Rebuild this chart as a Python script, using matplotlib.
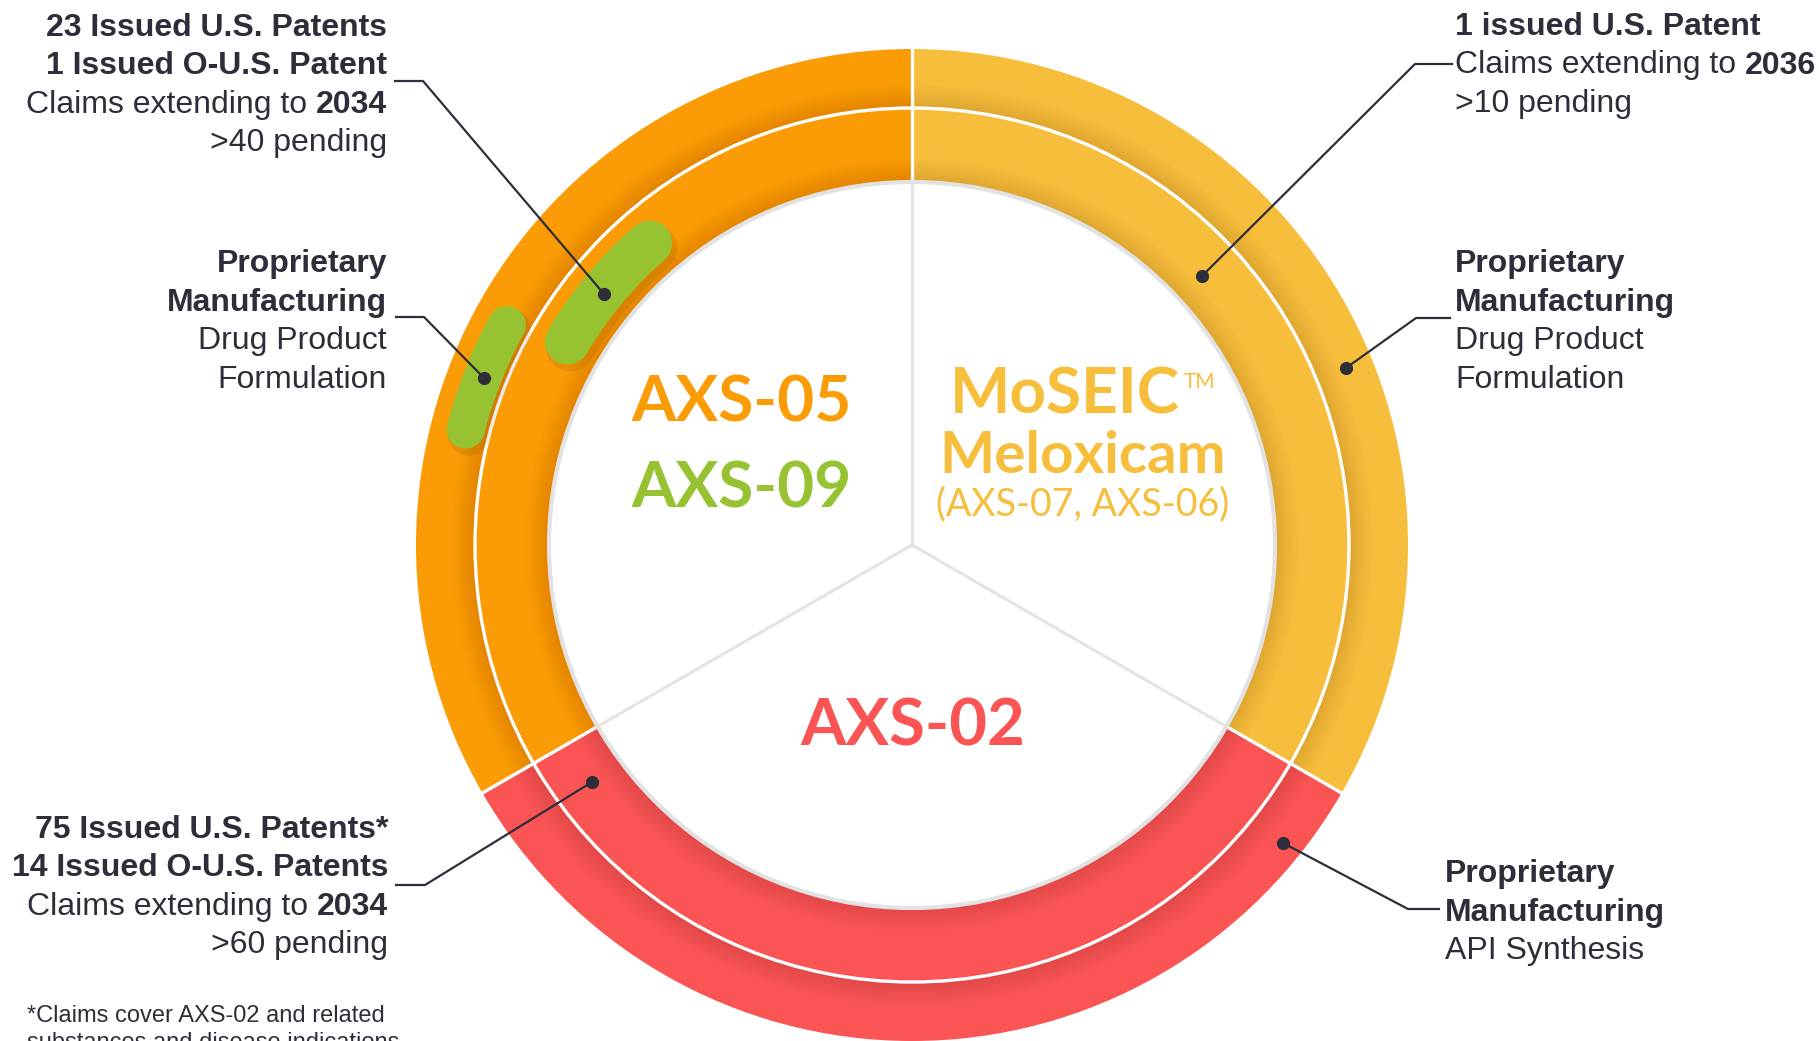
import matplotlib
matplotlib.use("Agg")
import matplotlib.pyplot as plt
from matplotlib.patches import Wedge, Circle
import numpy as np

# ── Canvas (data units = output pixels, y measured from the top) ──────────────
W, H = 1819, 1041
DPI = 100

ORANGE = "#FB9C06"
YELLOW = "#F7BE3C"
RED    = "#FA5454"
GREEN  = "#97C232"
DARK   = "#2D2E3A"
DIVIDE = "#E4E4E4"

LABEL_FONT = ["Liberation Sans", "DejaVu Sans"]
HEAD_FONT  = ["Lato", "DejaVu Sans"]

# ── Data: three programs sharing the ring equally ─────────────────────────────
SEGMENTS   = ["AXS-05 / AXS-09", "AXS-02", "MoSEIC Meloxicam"]
SHARES     = [1, 1, 1]
SEG_COLORS = [ORANGE, RED, YELLOW]

# annotation blocks: each line is (regular, bold)
BLOCK_AXS05 = [("", "23 Issued U.S. Patents"), ("", "1 Issued O-U.S. Patent"),
               ("Claims extending to", "2034"), (">40 pending", "")]
BLOCK_AXS05_MFG = [("", "Proprietary"), ("", "Manufacturing"),
                   ("Drug Product", ""), ("Formulation", "")]
BLOCK_AXS02 = [("", "75 Issued U.S. Patents*"), ("", "14 Issued O-U.S. Patents"),
               ("Claims extending to", "2034"), (">60 pending", "")]
BLOCK_MOSEIC = [("", "1 issued U.S. Patent"), ("Claims extending to", "2036"),
                (">10 pending", "")]
BLOCK_MOSEIC_MFG = [("", "Proprietary"), ("", "Manufacturing"),
                    ("Drug Product", ""), ("Formulation", "")]
BLOCK_AXS02_MFG = [("", "Proprietary"), ("", "Manufacturing"), ("API Synthesis", "")]
FOOTNOTE = ["*Claims cover AXS-02 and related", "substances and disease indications"]

# ── Layout ────────────────────────────────────────────────────────────────────
CX, CY = 912, 545
R_OUT, R_MID, R_IN = 496, 437, 363
LINE_STEP = 38.5
LABEL_SIZE = 23


def Y(y):
    return H - y


fig = plt.figure(figsize=(W / DPI, H / DPI), dpi=DPI)
ax = fig.add_axes([0, 0, 1, 1])
renderer = fig.canvas.get_renderer()

center = (CX, Y(CY))
ax.pie(SHARES, colors=SEG_COLORS, startangle=90, counterclock=True, radius=R_OUT,
       center=center, wedgeprops=dict(width=R_OUT - R_MID, linewidth=0))
ax.pie(SHARES, colors=SEG_COLORS, startangle=90, counterclock=True, radius=R_MID,
       center=center, wedgeprops=dict(width=R_MID - R_IN, linewidth=0))

# soft shadow toward the inner edge of each ring
for r_in in (R_MID, R_IN):
    for k in range(1, 13):
        ax.add_patch(Wedge(center, r_in + 2 * k, 0, 360, width=2 * k,
                           facecolor="black", alpha=0.006, linewidth=0, zorder=3))

bounds = 90 + 360 * np.cumsum([0] + SHARES) / sum(SHARES)
ax.add_patch(Circle(center, R_MID, facecolor="none", edgecolor="white",
                    linewidth=2.4, zorder=4))
for a in bounds[:-1]:
    t = np.radians(a)
    ax.plot([CX + R_IN * np.cos(t), CX + (R_OUT + 2) * np.cos(t)],
            [Y(CY) + R_IN * np.sin(t), Y(CY) + (R_OUT + 2) * np.sin(t)],
            color="white", linewidth=2.4, zorder=4)

# inner disc with dividers
ax.add_patch(Circle(center, R_IN, facecolor="white", edgecolor="#E2E2E2",
                    linewidth=3, zorder=5))
for a in bounds[:-1]:
    t = np.radians(a)
    ax.plot([CX, CX + (R_IN - 2) * np.cos(t)], [Y(CY), Y(CY) + (R_IN - 2) * np.sin(t)],
            color=DIVIDE, linewidth=2.2, zorder=6)

# green capsules on the orange rings (radius, start deg, end deg, thickness px)
for r, a0, a1, w in [(461, 151.5, 165.5, 38), (400, 131.0, 149.5, 45)]:
    t = np.radians(np.linspace(a0, a1, 60))
    xs = CX + r * np.cos(t)
    ys = Y(CY) + r * np.sin(t)
    ax.plot(xs + 3, ys - 5, color="black", alpha=0.08, linewidth=(w + 4) * 72 / DPI,
            solid_capstyle="round", zorder=6)
    ax.plot(xs, ys, color=GREEN, linewidth=w * 72 / DPI,
            solid_capstyle="round", zorder=7)

# leader lines
LEADERS = [
    [(395, 81), (423, 81), (604, 294)],
    [(396, 317), (424, 317), (484, 378)],
    [(396, 885), (425, 885), (592, 782)],
    [(1452, 64), (1415, 64), (1202, 276)],
    [(1450, 318), (1416, 318), (1346, 368)],
    [(1439, 909), (1408, 909), (1283, 843)],
]
for pts in LEADERS:
    xs = [p[0] for p in pts]
    ys = [Y(p[1]) for p in pts]
    ax.plot(xs, ys, color=DARK, linewidth=1.6, zorder=8)
    ax.plot(xs[-1], ys[-1], "o", color=DARK, markersize=8.5, zorder=9)


def draw_block(lines, x, baseline, ha):
    space = 0.278 * LABEL_SIZE * DPI / 72
    for i, (reg, bold) in enumerate(lines):
        y = Y(baseline + i * LINE_STEP)
        kw = dict(fontsize=LABEL_SIZE, color=DARK, family=LABEL_FONT, va="baseline", zorder=10)
        if reg and bold:
            if ha == "right":
                tb = ax.text(x, y, bold, ha="right", fontweight="bold", **kw)
                wb = tb.get_window_extent(renderer).width
                ax.text(x - wb - space, y, reg, ha="right", **kw)
            else:
                tr = ax.text(x, y, reg, ha="left", **kw)
                wr = tr.get_window_extent(renderer).width
                ax.text(x + wr + space, y, bold, ha="left", fontweight="bold", **kw)
        elif bold:
            ax.text(x, y, bold, ha=ha, fontweight="bold", **kw)
        else:
            ax.text(x, y, reg, ha=ha, **kw)


draw_block(BLOCK_AXS05, 387, 36, "right")
draw_block(BLOCK_AXS05_MFG, 387, 272, "right")
draw_block(BLOCK_AXS02, 388, 838, "right")
draw_block(BLOCK_MOSEIC, 1455, 35, "left")
draw_block(BLOCK_MOSEIC_MFG, 1455, 272, "left")
draw_block(BLOCK_AXS02_MFG, 1445, 882, "left")

for i, line in enumerate(FOOTNOTE):
    ax.text(27, Y(1022 + i * 27), line, fontsize=17, color=DARK, family=LABEL_FONT,
            ha="left", va="baseline", zorder=10)

# program names inside the ring
head = dict(family=HEAD_FONT, ha="center", va="baseline", zorder=10)
ax.text(741, Y(421), "AXS-05", fontsize=46, fontweight="bold", color=ORANGE, **head)
ax.text(741, Y(507), "AXS-09", fontsize=46, fontweight="bold", color=GREEN, **head)
ax.text(1065, Y(413), "MoSEIC", fontsize=46, fontweight="bold", color=YELLOW, **head)
ax.text(1184, Y(388), "TM", fontsize=15, color=YELLOW, family=HEAD_FONT,
        ha="left", va="baseline", zorder=10)
ax.text(1083, Y(473), "Meloxicam", fontsize=42, fontweight="bold", color=YELLOW, **head)
ax.text(1083, Y(515), "(AXS-07, AXS-06)", fontsize=27, color=YELLOW, **head)
ax.text(913, Y(745), "AXS-02", fontsize=47, fontweight="bold", color=RED, **head)

ax.set_xlim(0, W)
ax.set_ylim(0, H)
ax.set_aspect("equal")
ax.axis("off")

fig.savefig("out.png", dpi=DPI, facecolor="white")
plt.close(fig)
